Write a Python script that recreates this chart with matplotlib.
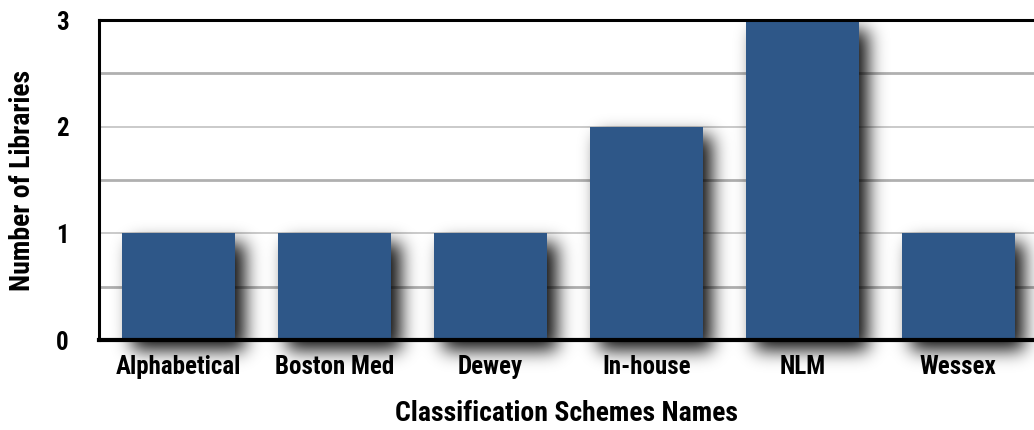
import numpy as np
import matplotlib
matplotlib.use("Agg")
import matplotlib.pyplot as plt

# ── DATA ──────────────────────────────────────────────
schemes = ["Alphabetical", "Boston Med", "Dewey", "In-house", "NLM", "Wessex"]
libraries = [1, 1, 1, 2, 3, 1]

BAR = "#2e5788"
plt.rcParams["font.family"] = ["Roboto Condensed", "DejaVu Sans"]
plt.rcParams["font.weight"] = "bold"

W, H, DPI = 1034, 430, 100
fig = plt.figure(figsize=(W/DPI, H/DPI), dpi=DPI)
ax = fig.add_axes([99/W, 90/H, (W-99)/W, 320/H])

x = np.arange(len(schemes))
xlim = (-0.51, 5.485); ylim = (0, 3)
bw = 0.725

# gridlines: half-steps a bit darker
for yv in np.arange(0.5, 3, 0.5):
    half = (yv*2) % 2 == 1
    ax.axhline(yv, color="#b0b0b0" if half else "#cacaca", lw=2.0 if half else 1.4, zorder=0)

# blurred drop shadow, built from the bar data in pixel space
pxx = (W-99)/(xlim[1]-xlim[0]); pxy = 320/(ylim[1]-ylim[0])
margin = 55
sh = np.zeros((320+margin, W-99+50))
dx, dy = 10, 10
for xi, v in zip(x, libraries):
    c0 = int((xi-bw/2-xlim[0])*pxx)+dx; c1 = int((xi+bw/2-xlim[0])*pxx)+dx
    r0 = int((ylim[1]-v)*pxy)+dy; r1 = 320+dy
    sh[max(r0, 0):r1, max(c0, 0):c1] = 1
sig = 9
k = np.exp(-0.5*(np.arange(-3*sig, 3*sig+1)/sig)**2); k /= k.sum()
sh = np.apply_along_axis(lambda r: np.convolve(r, k, mode="same"), 1, sh)
sh = np.apply_along_axis(lambda c: np.convolve(c, k, mode="same"), 0, sh)
sh = sh[:, :W-99]
rgba = np.zeros(sh.shape+(4,)); rgba[..., 3] = np.clip(sh*0.95, 0, 1)
ax.imshow(rgba, extent=(xlim[0], xlim[1], ylim[0]-margin/pxy, ylim[1]), aspect="auto",
          zorder=1, clip_on=False, interpolation="bilinear")
ax.set_xlim(*xlim); ax.set_ylim(*ylim)

ax.bar(x, libraries, width=bw, color=BAR, zorder=2)

for s in ["left", "top"]:
    ax.spines[s].set_linewidth(2.2)
ax.spines["bottom"].set_linewidth(3)
ax.spines["right"].set_visible(False)
for s in ax.spines.values():
    s.set_zorder(5)

ax.set_xticks(x, schemes)
ax.set_yticks([0, 1, 2, 3])
ax.tick_params(length=0, labelsize=18)
ax.tick_params(axis="y", pad=22)
ax.tick_params(axis="x", pad=11)
ax.set_xlabel("Classification Schemes Names", fontsize=20, fontweight="bold", labelpad=15)
ax.set_ylabel("Number of Libraries", fontsize=20, fontweight="bold", labelpad=14)
for t in ax.get_xticklabels()+ax.get_yticklabels():
    t.set_fontweight("bold")

fig.savefig("out.png", dpi=DPI)
